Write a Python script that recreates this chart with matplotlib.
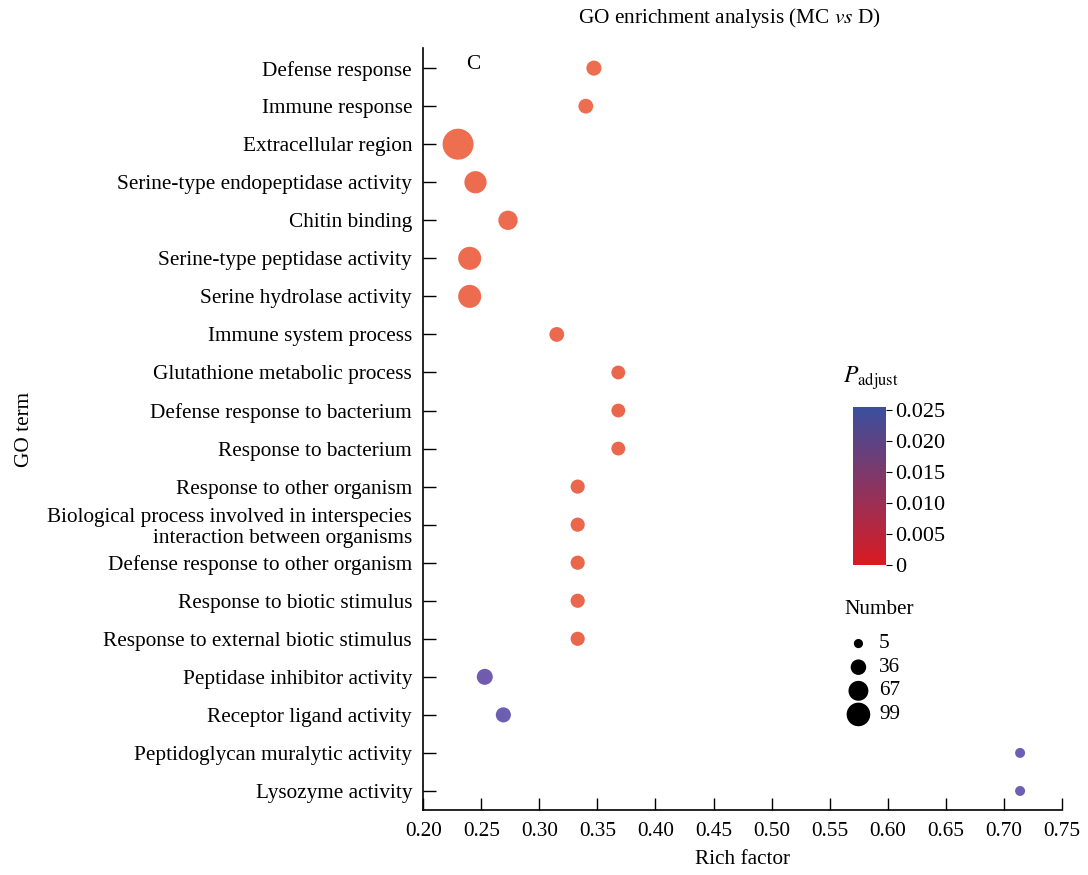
import numpy as np
import matplotlib
matplotlib.use("Agg")
import matplotlib.pyplot as plt
from matplotlib.colors import LinearSegmentedColormap, Normalize
from matplotlib.cm import ScalarMappable

plt.rcParams['font.family'] = ['Liberation Serif', 'DejaVu Serif']
plt.rcParams['mathtext.fontset'] = 'stix'

# GO terms, top to bottom
terms = [
    "Defense response",
    "Immune response",
    "Extracellular region",
    "Serine-type endopeptidase activity",
    "Chitin binding",
    "Serine-type peptidase activity",
    "Serine hydrolase activity",
    "Immune system process",
    "Glutathione metabolic process",
    "Defense response to bacterium",
    "Response to bacterium",
    "Response to other organism",
    "Biological process involved in interspecies\ninteraction between organisms",
    "Defense response to other organism",
    "Response to biotic stimulus",
    "Response to external biotic stimulus",
    "Peptidase inhibitor activity",
    "Receptor ligand activity",
    "Peptidoglycan muralytic activity",
    "Lysozyme activity",
]
rich_factor = [0.347, 0.340, 0.230, 0.245, 0.273, 0.240, 0.240, 0.315, 0.368, 0.368,
               0.368, 0.333, 0.333, 0.333, 0.333, 0.333, 0.253, 0.269, 0.714, 0.714]
gene_number = [19, 18, 99, 48, 35, 52, 52, 18, 15, 15,
               15, 16, 16, 16, 16, 16, 22, 19, 5, 5]
p_adjust = [0.0002, 0.0003, 0.0001, 0.0004, 0.0005, 0.0004, 0.0004, 0.0012, 0.0016, 0.0016,
            0.0016, 0.0018, 0.0018, 0.0018, 0.0018, 0.0018, 0.0195, 0.0215, 0.0220, 0.0220]
legend_numbers = [5, 36, 67, 99]
cbar_ticks = [0, 0.005, 0.010, 0.015, 0.020, 0.025]

FS = 15.3


def marker_area(n):
    return 28 + 4.75 * np.asarray(n, dtype=float)


point_cmap = LinearSegmentedColormap.from_list(
    "pts", [(0, "#EE6E50"), (0.1, "#E8634C"), (0.7, "#7458AD"), (1, "#6467B8")])
bar_cmap = LinearSegmentedColormap.from_list("bar", ["#DA1A22", "#3A4F9F"])
norm = Normalize(vmin=0, vmax=0.0255)

fig = plt.figure(figsize=(10.88, 8.75), dpi=100)
ax = fig.add_axes([0.389, 0.0743, 0.587, 0.8709])

y = np.arange(len(terms))
ax.scatter(rich_factor, y, s=marker_area(gene_number), c=p_adjust, cmap=point_cmap,
           norm=norm, linewidths=0, zorder=3)

ax.set_xlim(0.20, 0.75)
ax.set_ylim(len(terms) - 0.5, -0.53)
ax.set_xticks(np.arange(0.20, 0.751, 0.05))
ax.set_xticklabels([f"{v:.2f}" for v in np.arange(0.20, 0.751, 0.05)])
ax.set_yticks(y)
ax.set_yticklabels(terms, linespacing=1.15)
ax.tick_params(axis='both', direction='in', labelsize=FS, width=1.0)
ax.tick_params(axis='y', length=9, pad=8)
ax.tick_params(axis='x', length=9, pad=9)
for side in ('top', 'right'):
    ax.spines[side].set_visible(False)
for side in ('left', 'bottom'):
    ax.spines[side].set_linewidth(1.2)

ax.set_xlabel("Rich factor", fontsize=FS, labelpad=6)
ax.set_ylabel("GO term", fontsize=FS)
ax.yaxis.set_label_coords(-0.61, 0.5)
ax.set_title("GO enrichment analysis (MC $\\mathit{vs}$ D)", fontsize=FS, pad=18, x=0.48)
ax.text(0.243, -0.1, "C", fontsize=FS, ha='center', va='center')

# colour bar for adjusted p-value
cax = fig.add_axes([0.784, 0.354, 0.030, 0.181])
sm = ScalarMappable(norm=norm, cmap=bar_cmap)
cb = fig.colorbar(sm, cax=cax, ticks=cbar_ticks)
cb.outline.set_visible(False)
cb.ax.set_yticklabels(["0", "0.005", "0.010", "0.015", "0.020", "0.025"])
cb.ax.tick_params(labelsize=16, length=4, width=0.8, pad=3)
fig.text(0.775, 0.568, "$P_{\\mathrm{adjust}}$", fontsize=17, ha='left', va='center')

# size legend for gene number
fig.text(0.776, 0.303, "Number", fontsize=FS, ha='left', va='center')
lax = fig.add_axes([0.77, 0.17, 0.1, 0.108])
lax.set_xlim(0, 1)
lax.set_ylim(3.5, -0.5)
lax.axis('off')
ly = np.arange(len(legend_numbers))
lax.scatter(np.full(len(ly), 0.19), ly, s=marker_area(legend_numbers) * 0.55 + 15,
            c='black', linewidths=0, clip_on=False)
for yy, n in zip(ly, legend_numbers):
    lax.text(0.38, yy, str(n), fontsize=FS, ha='left', va='center')

fig.savefig("out.png", dpi=100)
